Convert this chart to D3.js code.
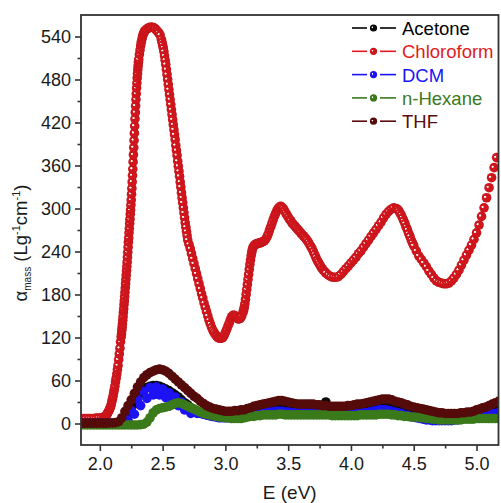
<!DOCTYPE html>
<html>
<head>
<meta charset="utf-8">
<script src="https://cdn.jsdelivr.net/npm/d3@7/dist/d3.min.js"></script>
<style>
  html, body { margin: 0; padding: 0; background: #ffffff; }
  svg { display: block; font-family: "Liberation Sans", Arial, sans-serif; }
</style>
</head>
<body>
<svg id="chart" width="501" height="503"></svg>
<script>
// Mass absorption coefficient spectra of the sample dispersed in five solvents.

// Energy grid (eV) shared by the low-absorbing solvents
const energyGrid = [
  1.850, 1.875, 1.900, 1.925, 1.950, 1.975, 2.000, 2.025, 2.050, 2.075,
  2.100, 2.125, 2.150, 2.175, 2.200, 2.225, 2.250, 2.275, 2.300, 2.325,
  2.350, 2.375, 2.400, 2.425, 2.450, 2.475, 2.500, 2.525, 2.550, 2.575,
  2.600, 2.625, 2.650, 2.675, 2.700, 2.725, 2.750, 2.775, 2.800, 2.825,
  2.850, 2.875, 2.900, 2.925, 2.950, 2.975, 3.000, 3.025, 3.050, 3.075,
  3.100, 3.125, 3.150, 3.175, 3.200, 3.225, 3.250, 3.275, 3.300, 3.325,
  3.350, 3.375, 3.400, 3.425, 3.450, 3.475, 3.500, 3.525, 3.550, 3.575,
  3.600, 3.625, 3.650, 3.675, 3.700, 3.725, 3.750, 3.775, 3.800, 3.825,
  3.850, 3.875, 3.900, 3.925, 3.950, 3.975, 4.000, 4.025, 4.050, 4.075,
  4.100, 4.125, 4.150, 4.175, 4.200, 4.225, 4.250, 4.275, 4.300, 4.325,
  4.350, 4.375, 4.400, 4.425, 4.450, 4.475, 4.500, 4.525, 4.550, 4.575,
  4.600, 4.625, 4.650, 4.675, 4.700, 4.725, 4.750, 4.775, 4.800, 4.825,
  4.850, 4.875, 4.900, 4.925, 4.950, 4.975, 5.000, 5.025, 5.050, 5.075,
  5.100, 5.125, 5.150, 5.175
];

const acetone = [
  0.3, 0.3, 0.3, 0.3, 0.3, 0.3, 0.3, 0.3, 0.3, 0.3,
  0.3, 0.5, 1, 3, 7, 12, 18, 27, 35, 42,
  47, 50, 52, 53, 53, 52, 50, 48, 46, 43,
  40, 37, 33, 29, 26, 22, 19, 17, 15, 13,
  12, 11, 10, 10, 10, 10, 10, 10, 10, 10,
  11, 11, 12, 13, 14, 15, 16, 17, 18, 18,
  19, 19, 20, 20, 21, 20, 20, 19, 19, 18,
  18, 18, 18, 18, 17, 17, 17, 17, 30, 17,
  16, 16, 16, 16, 16, 16, 17, 17, 17, 18,
  18, 19, 20, 21, 22, 23, 23, 23, 22, 21,
  20, 19, 18, 17, 16, 15, 14, 13, 12, 11,
  10, 9, 9, 8, 8, 8, 8, 8, 8, 8,
  9, 9, 10, 11, 12, 13, 14, 15, 16, 17,
  18, 18, 19, 20
];

// DCM readings scatter between two levels around the band maximum
const dcm = [
  0.2, 0.2, 0.2, 0.2, 0.2, 0.2, 0.2, 0.2, 0.2, 0.2,
  0.2, 0.4, 1, 3, 7, 4, 18, 13, 34, 25,
  45, 35, 50, 40, 51, 40, 48, 36, 43, 31,
  37, 25, 30, 19, 22, 14, 16, 14, 14, 13,
  12, 11, 10, 9, 8, 8, 8, 8, 8, 8,
  8, 9, 10, 11, 12, 13, 14, 14, 15, 15,
  16, 16, 17, 17, 17, 16, 16, 15, 15, 15,
  15, 15, 15, 14, 14, 14, 14, 14, 14, 13,
  13, 13, 13, 13, 13, 13, 13, 13, 14, 14,
  15, 15, 16, 17, 18, 19, 19, 19, 18, 17,
  16, 15, 14, 12, 11, 10, 9, 8, 7, 6,
  5, 5, 4, 4, 4, 4, 4, 4, 4, 5,
  5, 6, 7, 8, 9, 10, 11, 11, 12, 12,
  13, 14, 14, 15
];

const hexane = [
  -2, -2, -2, -2, -2, -2, -2, -2, -2, -2,
  -2, -2, -2, -2, -2, -2, -2, -2, -2, -1.5,
  -1, 2, 8, 15, 19, 21, 22, 23, 24, 26,
  28, 29, 28, 26, 24, 22, 20, 18, 16, 14,
  13, 12, 11, 10, 9, 9, 8, 8, 7, 7,
  7, 7, 8, 9, 10, 10, 11, 11, 12, 12,
  12, 12, 12, 13, 13, 12, 12, 12, 12, 12,
  12, 12, 12, 12, 12, 12, 12, 12, 12, 12,
  11, 11, 11, 11, 11, 11, 11, 11, 11, 12,
  12, 12, 12, 12, 12, 13, 13, 13, 13, 12,
  12, 11, 11, 10, 10, 9, 9, 9, 8, 8,
  7, 7, 6, 6, 5, 5, 5, 5, 5, 5,
  5, 5, 6, 6, 6, 6, 7, 7, 7, 7,
  7, 7, 7, 7
];

const thf = [
  0.5, 0.5, 0.5, 0.5, 0.5, 0.5, 0.5, 0.5, 0.5, 0.8,
  0.8, 1.2, 2.5, 8, 17, 25, 33, 42, 51, 58,
  64, 68, 71, 73, 75, 76, 75, 73, 70, 66,
  62, 58, 54, 50, 46, 42, 38, 35, 31, 28,
  25, 23, 21, 20, 19, 18, 17, 17, 17, 18,
  18, 19, 19, 21, 22, 24, 25, 26, 27, 28,
  29, 30, 31, 32, 32, 31, 30, 29, 28, 27,
  27, 27, 27, 27, 27, 26, 26, 25, 25, 24,
  24, 24, 24, 24, 24, 25, 25, 26, 27, 27,
  28, 29, 30, 31, 32, 33, 34, 34, 34, 33,
  31, 30, 29, 27, 26, 24, 23, 22, 21, 20,
  19, 18, 17, 16, 15, 15, 14, 14, 14, 14,
  14, 15, 15, 16, 16, 17, 19, 20, 22, 23,
  25, 27, 29, 31
];

// Chloroform is sampled on its own (denser) energy points: [E (eV), alpha]
const chloroform = [
  [1.85, 7], [1.87, 7], [1.89, 7], [1.91, 7], [1.93, 7], [1.95, 7], [1.97, 7.5], [1.99, 7.5], [2.01, 8], [2.03, 9],
  [2.045, 10], [2.05, 11], [2.055, 12], [2.06, 14], [2.065, 15.5], [2.07, 17], [2.075, 19], [2.08, 21], [2.085, 23], [2.09, 26],
  [2.095, 30], [2.1, 34], [2.105, 38], [2.11, 43], [2.115, 47], [2.12, 52], [2.125, 58], [2.13, 63], [2.135, 69], [2.14, 75],
  [2.145, 81], [2.15, 89], [2.155, 97], [2.16, 105], [2.165, 114],
  [2.17, 121], [2.1725, 125], [2.175, 130], [2.1775, 134], [2.18, 139], [2.1825, 144], [2.185, 149], [2.1875, 155], [2.19, 160], [2.1925, 166],
  [2.195, 171], [2.1975, 177], [2.2, 183], [2.2025, 189], [2.205, 195], [2.2075, 201], [2.21, 207], [2.2125, 213], [2.215, 219], [2.2175, 225],
  [2.22, 232], [2.2225, 239], [2.225, 246], [2.2275, 253], [2.23, 259], [2.2325, 266], [2.235, 272], [2.2375, 279], [2.24, 285], [2.2425, 292],
  [2.245, 298], [2.2475, 305], [2.25, 312], [2.2525, 320], [2.255, 328], [2.2575, 337], [2.26, 346], [2.2625, 355], [2.265, 365], [2.2675, 375],
  [2.27, 385], [2.2725, 395], [2.275, 405], [2.2775, 415], [2.28, 425], [2.2825, 434], [2.285, 443], [2.2875, 452], [2.29, 460], [2.2925, 468],
  [2.295, 475], [2.2975, 482], [2.3, 488], [2.3025, 494], [2.305, 499], [2.3075, 504], [2.31, 508],
  [2.315, 515], [2.32, 521], [2.325, 527], [2.33, 532], [2.335, 536], [2.34, 540], [2.345, 543], [2.35, 545], [2.355, 547], [2.36, 548],
  [2.37, 550], [2.38, 551], [2.39, 552], [2.4, 553], [2.41, 553], [2.42, 553], [2.43, 552], [2.44, 551], [2.45, 549], [2.46, 547],
  [2.47, 545], [2.48, 542], [2.49, 536], [2.495, 532], [2.5, 528], [2.505, 524], [2.51, 519], [2.515, 513], [2.52, 507], [2.525, 501],
  [2.53, 494], [2.535, 487], [2.54, 480], [2.545, 473], [2.55, 466], [2.555, 459], [2.56, 452], [2.565, 445], [2.57, 438], [2.575, 431],
  [2.58, 424], [2.585, 417], [2.59, 410], [2.595, 403], [2.6, 396], [2.605, 388], [2.61, 381], [2.615, 374], [2.62, 366], [2.625, 359],
  [2.63, 352], [2.635, 345], [2.64, 337], [2.645, 330], [2.65, 322], [2.655, 315], [2.66, 308], [2.665, 301], [2.67, 294], [2.675, 287],
  [2.68, 280], [2.685, 274], [2.69, 268], [2.695, 262], [2.7, 256],
  [2.71, 250], [2.72, 244], [2.73, 237], [2.74, 230], [2.75, 223], [2.76, 216], [2.77, 209], [2.78, 202], [2.79, 195], [2.8, 188],
  [2.81, 181], [2.82, 175], [2.83, 168], [2.84, 162], [2.85, 156], [2.86, 150], [2.87, 144], [2.88, 139], [2.89, 134], [2.9, 130],
  [2.91, 127], [2.92, 124], [2.93, 122], [2.94, 120], [2.95, 119], [2.96, 119], [2.97, 119], [2.98, 120], [2.99, 123],
  [3.0, 127], [3.01, 131], [3.02, 136], [3.03, 140], [3.04, 145], [3.05, 149], [3.06, 151], [3.07, 151], [3.08, 150], [3.09, 148],
  [3.1, 146], [3.11, 146], [3.12, 147], [3.13, 150], [3.14, 155], [3.145, 158], [3.15, 162], [3.155, 167], [3.16, 173], [3.165, 180],
  [3.17, 187], [3.175, 194], [3.18, 201], [3.185, 208], [3.19, 215], [3.195, 222], [3.2, 228], [3.205, 234], [3.21, 239], [3.215, 243],
  [3.22, 246], [3.23, 249], [3.24, 250], [3.25, 251], [3.26, 251], [3.27, 252], [3.28, 252], [3.29, 253], [3.3, 254], [3.31, 255],
  [3.32, 257], [3.33, 260], [3.34, 264], [3.35, 269], [3.36, 274], [3.37, 279], [3.38, 284], [3.39, 289], [3.4, 293], [3.41, 297],
  [3.42, 300], [3.43, 302], [3.44, 303], [3.45, 302], [3.46, 300], [3.47, 297], [3.48, 294], [3.49, 291], [3.5, 288], [3.51, 285],
  [3.52, 283], [3.53, 280], [3.54, 278], [3.55, 276], [3.56, 274], [3.57, 272], [3.58, 270], [3.59, 268], [3.6, 266], [3.61, 264],
  [3.62, 262], [3.63, 260], [3.64, 258], [3.65, 256], [3.66, 253], [3.67, 250], [3.68, 247], [3.69, 244], [3.7, 240], [3.71, 236],
  [3.72, 232], [3.73, 228], [3.74, 225], [3.75, 222], [3.76, 219], [3.77, 216], [3.78, 214], [3.79, 212], [3.8, 210], [3.82, 207],
  [3.84, 205], [3.86, 204], [3.88, 204], [3.9, 205], [3.92, 208], [3.94, 212], [3.96, 216], [3.98, 220], [4.0, 224], [4.02, 228],
  [4.04, 232], [4.06, 237], [4.08, 241], [4.1, 246], [4.12, 251], [4.14, 256], [4.16, 261], [4.18, 266], [4.2, 271], [4.22, 276],
  [4.24, 281], [4.26, 287], [4.28, 292], [4.3, 296], [4.32, 299], [4.34, 301], [4.36, 300], [4.37, 299], [4.38, 297], [4.39, 294],
  [4.4, 291], [4.41, 287], [4.42, 283], [4.43, 279], [4.44, 274], [4.45, 270], [4.46, 265], [4.47, 261], [4.48, 256], [4.49, 252],
  [4.5, 248], [4.52, 241], [4.54, 234], [4.56, 229], [4.58, 224], [4.6, 219], [4.62, 213], [4.64, 208], [4.66, 203], [4.68, 199],
  [4.7, 197], [4.72, 196], [4.74, 195], [4.76, 195], [4.78, 196], [4.8, 199], [4.82, 203], [4.84, 208], [4.86, 214], [4.88, 221],
  [4.9, 228], [4.92, 235], [4.94, 242], [4.96, 249], [4.98, 257], [5.0, 266], [5.02, 277], [5.04, 289], [5.06, 301], [5.08, 315],
  [5.1, 329], [5.12, 343], [5.14, 357], [5.16, 371]
];

const xMajorTicks = [2.0, 2.5, 3.0, 3.5, 4.0, 4.5, 5.0];
const xMinorTicks = [2.25, 2.75, 3.25, 3.75, 4.25, 4.75];
const yMajorTicks = [0, 60, 120, 180, 240, 300, 360, 420, 480, 540];
const yMinorTicks = [30, 90, 150, 210, 270, 330, 390, 450, 510];

const seriesNames = ["Acetone", "Chloroform", "DCM", "n-Hexane", "THF"];
const seriesColors = {
  "Acetone":    { base: "#0a0a0a", dark: "#000000", text: "#000000" },
  "Chloroform": { base: "#d0161c", dark: "#b81016", text: "#e01a20" },
  "DCM":        { base: "#1c12f4", dark: "#1410d8", text: "#1a14f5" },
  "n-Hexane":   { base: "#3a7a1a", dark: "#326c16", text: "#3b7a1b" },
  "THF":        { base: "#560b0b", dark: "#4a0808", text: "#5a0c0c" }
};

const svg = d3.select("#chart");
const W = 501, H = 503;
const plot = { left: 81, right: 498.5, top: 15, bottom: 445 };

const x = d3.scaleLinear().domain([1.85, 5.175]).range([plot.left, plot.right]);
const y = d3.scaleLinear().domain([-30, 570]).range([plot.bottom, plot.top]);

svg.append("rect").attr("width", W).attr("height", H).attr("fill", "#ffffff");

// Ball markers: a small specular spot on a nearly flat body colour
const defs = svg.append("defs");
seriesNames.forEach((name, i) => {
  const c = seriesColors[name];
  const g = defs.append("radialGradient")
    .attr("id", "ball" + i)
    .attr("cx", "50%").attr("cy", "50%").attr("r", "50%")
    .attr("fx", "30%").attr("fy", "38%");
  g.append("stop").attr("offset", "0%").attr("stop-color", "#ffffff");
  g.append("stop").attr("offset", "14%").attr("stop-color", "#ffffff").attr("stop-opacity", 0.9);
  g.append("stop").attr("offset", "30%").attr("stop-color", c.base);
  g.append("stop").attr("offset", "85%").attr("stop-color", c.base);
  g.append("stop").attr("offset", "100%").attr("stop-color", c.dark);
});
defs.append("clipPath").attr("id", "plotClip")
  .append("rect")
  .attr("x", plot.left).attr("y", plot.top)
  .attr("width", plot.right - plot.left).attr("height", plot.bottom - plot.top);

const seriesData = {
  "Acetone": energyGrid.map((e, i) => [e, acetone[i]]),
  "Chloroform": chloroform,
  "DCM": energyGrid.map((e, i) => [e, dcm[i]]),
  "n-Hexane": energyGrid.map((e, i) => [e, hexane[i]]),
  "THF": energyGrid.map((e, i) => [e, thf[i]])
};

const markerR = 4.8;
const marks = svg.append("g").attr("clip-path", "url(#plotClip)");
seriesNames.forEach((name, i) => {
  const c = seriesColors[name];
  // The dense low-absorbance bands render as flat colour; chloroform keeps its glossy balls
  const fill = name === "Chloroform" ? `url(#ball${i})` : c.base;
  marks.append("g")
    .selectAll("circle")
    .data(seriesData[name])
    .join("circle")
    .attr("cx", d => x(d[0]))
    .attr("cy", d => y(d[1]))
    .attr("r", markerR)
    .attr("fill", fill);
});

// Axes
const axisColor = "#333333";
const tickFont = 18;

svg.append("g")
  .attr("transform", `translate(0,${plot.bottom})`)
  .call(d3.axisBottom(x).tickValues(xMajorTicks).tickFormat(d3.format(".1f")).tickSize(6).tickPadding(6).tickSizeOuter(0));
svg.append("g")
  .attr("transform", `translate(0,${plot.bottom})`)
  .call(d3.axisBottom(x).tickValues(xMinorTicks).tickFormat("").tickSize(3.5).tickSizeOuter(0));

svg.append("g")
  .attr("transform", `translate(${plot.left},0)`)
  .call(d3.axisLeft(y).tickValues(yMajorTicks).tickFormat(d3.format("d")).tickSize(6).tickPadding(4).tickSizeOuter(0));
svg.append("g")
  .attr("transform", `translate(${plot.left},0)`)
  .call(d3.axisLeft(y).tickValues(yMinorTicks).tickFormat("").tickSize(3.5).tickSizeOuter(0));

svg.selectAll(".domain").remove();
svg.selectAll(".tick line").attr("stroke", axisColor).attr("stroke-width", 1.6);
svg.selectAll(".tick text")
  .attr("fill", "#1a1a1a")
  .style("font-size", tickFont + "px")
  .style("font-family", '"Liberation Sans", Arial, sans-serif');

// Frame
svg.append("rect")
  .attr("x", plot.left).attr("y", plot.top)
  .attr("width", plot.right - plot.left).attr("height", plot.bottom - plot.top)
  .attr("fill", "none").attr("stroke", axisColor).attr("stroke-width", 1.8);

// Axis titles
svg.append("text")
  .attr("x", (plot.left + plot.right) / 2).attr("y", 499)
  .attr("text-anchor", "middle")
  .attr("fill", "#1a1a1a")
  .style("font-size", "19px")
  .text("E (eV)");

const yTitle = svg.append("text")
  .attr("transform", "translate(27,243) rotate(-90)")
  .attr("text-anchor", "middle")
  .attr("fill", "#1a1a1a")
  .style("font-size", "18.5px");
yTitle.append("tspan").text("\u03b1");
yTitle.append("tspan").attr("dy", 4).style("font-size", "10px").text("mass");
yTitle.append("tspan").attr("dy", -4).text(" (Lg");
yTitle.append("tspan").attr("dy", -7).style("font-size", "11px").text("-1");
yTitle.append("tspan").attr("dy", 7).text("cm");
yTitle.append("tspan").attr("dy", -7).style("font-size", "11px").text("-1");
yTitle.append("tspan").attr("dy", 7).text(")");

// Legend
const legend = svg.append("g");
seriesNames.forEach((name, i) => {
  const cy = 28 + i * 23.3;
  const c = seriesColors[name];
  const row = legend.append("g");
  row.append("line").attr("x1", 352).attr("x2", 367).attr("y1", cy).attr("y2", cy)
    .attr("stroke", c.text).attr("stroke-width", 1.6);
  row.append("line").attr("x1", 380).attr("x2", 396).attr("y1", cy).attr("y2", cy)
    .attr("stroke", c.text).attr("stroke-width", 1.6);
  row.append("circle").attr("cx", 373.5).attr("cy", cy).attr("r", 3.6)
    .attr("fill", `url(#ball${i})`);
  row.append("text").attr("x", 402).attr("y", cy + 7)
    .attr("fill", c.text)
    .style("font-size", "18.5px")
    .text(name);
});
</script>
</body>
</html>
